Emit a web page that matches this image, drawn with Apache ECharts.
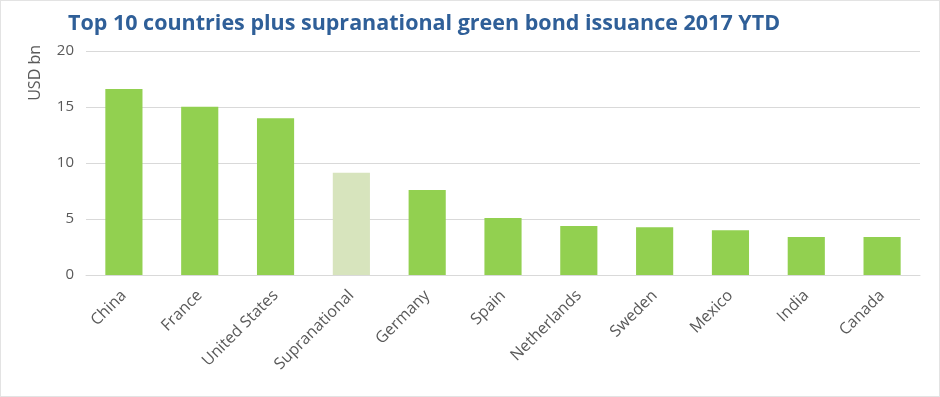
<!DOCTYPE html>
<html><head><meta charset="utf-8">
<script src="https://cdn.jsdelivr.net/npm/echarts@6/dist/echarts.min.js"></script>
<style>
html,body{margin:0;padding:0;background:#fff;}
#c{width:938px;height:395px;border:1px solid #e3e3e3;}
</style></head>
<body><div id="c"></div>
<script>
const categories = ["China","France","United States","Supranational","Germany","Spain","Netherlands","Sweden","Mexico","India","Canada"];
const values = [16.6, 15.03, 14.0, 9.13, 7.6, 5.1, 4.38, 4.27, 4.0, 3.4, 3.4];
const highlight = "Supranational";
const yTicks = [0, 5, 10, 15, 20];

const chart = echarts.init(document.getElementById('c'));
chart.setOption({
  animation: false,
  title: {
    text: 'Top 10 countries plus supranational green bond issuance 2017 YTD',
    left: 62, top: 7,
    textStyle: {fontFamily: 'Open Sans', fontWeight: 'bold', fontSize: 21.5, color: '#2F5F98'}
  },
  graphic: [{
    type: 'text', left: 26, top: 44, rotation: Math.PI / 2,
    style: {text: 'USD bn', fill: '#595959', font: '16px "Open Sans"'}
  }],
  grid: {left: 85, right: 19, top: 50, bottom: 121},
  xAxis: {
    type: 'category', data: categories,
    axisLine: {lineStyle: {color: '#d9d9d9', width: 1}},
    axisTick: {show: false},
    axisLabel: {rotate: 45, margin: 18, color: '#595959', fontFamily: 'Open Sans', fontSize: 16, interval: 0}
  },
  yAxis: {
    type: 'value', min: yTicks[0], max: yTicks[yTicks.length-1], interval: 5,
    axisLine: {show: false}, axisTick: {show: false},
    axisLabel: {color: '#595959', fontFamily: 'Open Sans', fontSize: 15, margin: 12},
    splitLine: {lineStyle: {color: '#d9d9d9', width: 1}}
  },
  series: [{
    type: 'bar',
    barWidth: '49%',
    data: values.map((v, i) => ({
      value: v,
      itemStyle: {color: categories[i] === highlight ? '#D7E4BD' : '#92D050'}
    }))
  }]
});
</script></body></html>
